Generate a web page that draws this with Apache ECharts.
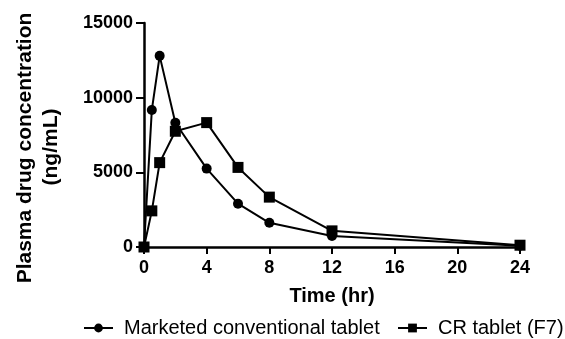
<!DOCTYPE html>
<html><head><meta charset="utf-8">
<script src="https://cdn.jsdelivr.net/npm/echarts@6/dist/echarts.min.js"></script>
<style>html,body{margin:0;padding:0;background:#fff}#c{width:565px;height:339px}</style>
</head><body><div id="c"></div>
<script>
const times = [0, 0.5, 1, 2, 4, 6, 8, 12, 24];
const conventional = [0, 9180, 12800, 8320, 5250, 2900, 1620, 740, 80];
const crTablet = [0, 2420, 5650, 7750, 8330, 5330, 3340, 1080, 120];
const seriesNames = ['Marketed conventional tablet', 'CR tablet (F7)'];
const xTicks = [0, 4, 8, 12, 16, 20, 24];
const yTicks = [0, 5000, 10000, 15000];
const xTitle = 'Time (hr)';
const yTitleLines = ['Plasma drug concentration', '(ng/mL)'];

const font = '"Liberation Sans", Arial, sans-serif';
const chart = echarts.init(document.getElementById('c'));
const pair = arr => times.map((t, i) => [t, arr[i]]);
const legendBase = {
  orient: 'horizontal', top: 318, padding: 0,
  itemWidth: 29, itemHeight: 11,
  textStyle: { fontFamily: font, fontSize: 20, color: '#000', padding: [0, 0, 0, 6] }
};
chart.setOption({
  animation: false,
  backgroundColor: '#fff',
  grid: { left: 144, right: 45, top: 23, bottom: 92 },
  xAxis: {
    type: 'value', min: xTicks[0], max: xTicks[xTicks.length - 1], interval: 4,
    name: xTitle, nameLocation: 'middle', nameGap: 39,
    nameTextStyle: { fontFamily: font, fontWeight: 'bold', fontSize: 20, color: '#000' },
    axisLine: { lineStyle: { color: '#000', width: 2.5 } },
    axisTick: { show: true, length: 7, lineStyle: { color: '#000', width: 2 } },
    axisLabel: { fontFamily: font, fontWeight: 'bold', fontSize: 18, color: '#000', margin: 12 },
    splitLine: { show: false }
  },
  yAxis: {
    type: 'value', min: yTicks[0], max: yTicks[yTicks.length - 1], interval: 5000,
    axisLine: { show: true, lineStyle: { color: '#000', width: 2.5 } },
    axisTick: { show: true, length: 8, lineStyle: { color: '#000', width: 2 } },
    axisLabel: { fontFamily: font, fontWeight: 'bold', fontSize: 18, color: '#000', margin: 11,
      formatter: v => String(v) },
    splitLine: { show: false }
  },
  graphic: [
    { type: 'text', x: 25, y: 148, rotation: Math.PI / 2,
      style: { text: yTitleLines[0], fontFamily: font, fontWeight: 'bold', fontSize: 21, fill: '#000',
        textAlign: 'center', textVerticalAlign: 'middle' } },
    { type: 'text', x: 51, y: 147, rotation: Math.PI / 2,
      style: { text: yTitleLines[1], fontFamily: font, fontWeight: 'bold', fontSize: 21, fill: '#000',
        textAlign: 'center', textVerticalAlign: 'middle' } }
  ],
  legend: [
    Object.assign({}, legendBase, { left: 83, data: [seriesNames[0]] }),
    Object.assign({}, legendBase, { left: 397, data: [seriesNames[1]] })
  ],
  series: [
    { name: seriesNames[0], type: 'line', data: pair(conventional), symbol: 'circle', symbolSize: 10,
      itemStyle: { color: '#000' }, lineStyle: { color: '#000', width: 2 } },
    { name: seriesNames[1], type: 'line', data: pair(crTablet), symbol: 'rect', symbolSize: 11,
      itemStyle: { color: '#000' }, lineStyle: { color: '#000', width: 2 } }
  ]
});
</script></body></html>
